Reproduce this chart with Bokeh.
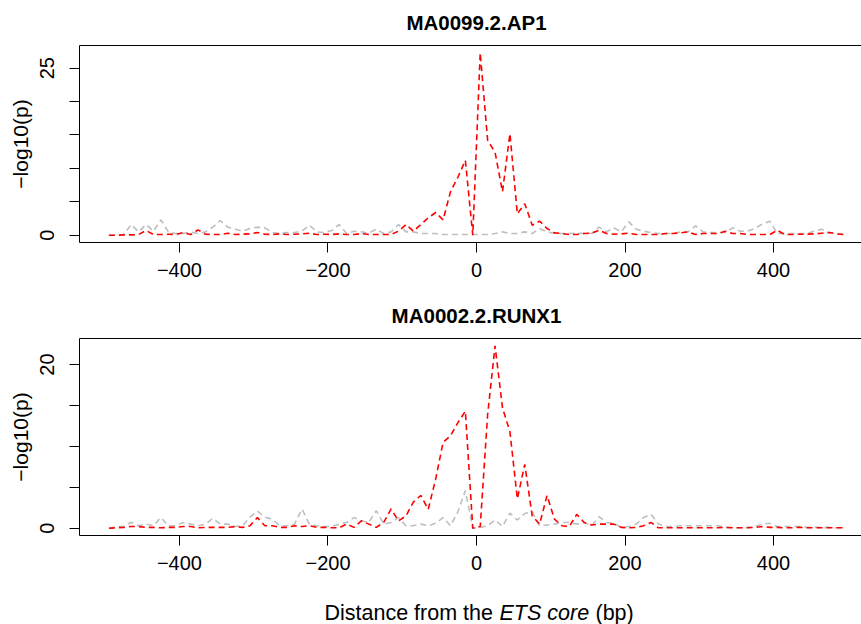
from bokeh.plotting import figure
from bokeh.models import Range1d, FixedTicker, LinearAxis
from bokeh.layouts import column
from bokeh.core.properties import value
from bokeh.embed import file_html
from bokeh.resources import INLINE

# ---------------- data ----------------
positions = list(range(-495, 500, 10))  # bin centres (bp)

ap1_red = [
    0.0, 0.0, 0.05, 0.05, 0.1, 0.7, 0.1, 0.1, 0.15, 0.1,
    0.4, 0.1, 0.8, 0.15, 0.1, 0.1, 0.3, 0.1, 0.15, 0.2,
    0.4, 0.15, 0.1, 0.2, 0.1, 0.15, 0.2, 0.3, 0.1, 0.15,
    0.1, 0.2, 0.1, 0.1, 0.25, 0.1, 0.1, 0.1, 0.1, 0.6,
    1.6, 0.6, 1.6, 2.6, 3.4, 2.3, 6.5, 8.7, 11.2, 0.0,
    27.3, 14.2, 12.4, 6.5, 15.2, 3.2, 4.7, 1.5, 2.1, 1.0,
    0.35, 0.25, 0.1, 0.1, 0.25, 0.3, 0.75, 0.25, 0.15, 0.2,
    0.3, 0.1, 0.1, 0.1, 0.1, 0.25, 0.25, 0.35, 0.5, 0.1,
    0.25, 0.25, 0.25, 0.6, 0.25, 0.25, 0.1, 0.1, 0.1, 0.1,
    0.75, 0.1, 0.1, 0.15, 0.15, 0.2, 0.3, 0.4, 0.2, 0.1,
]
ap1_grey = [
    0.0, 0.0, 0.1, 1.6, 0.5, 1.6, 0.6, 2.3, 0.5, 0.25,
    0.25, 0.5, 0.25, 0.5, 1.2, 2.2, 1.2, 0.9, 0.6, 1.0,
    1.2, 1.1, 0.4, 0.25, 0.4, 0.4, 0.6, 1.5, 0.5, 0.4,
    0.7, 1.6, 0.25, 0.6, 0.5, 0.3, 0.9, 0.25, 0.5, 1.6,
    0.5, 0.5, 0.25, 0.25, 0.25, 0.1, 0.1, 0.1, 0.1, 0.1,
    0.1, 0.1, 0.25, 0.5, 0.25, 0.25, 0.5, 0.25, 1.0, 0.5,
    0.25, 0.25, 0.25, 0.3, 0.3, 0.25, 1.2, 0.5, 1.1, 0.5,
    2.0, 0.9, 0.6, 0.4, 0.25, 0.25, 0.25, 0.5, 0.5, 1.4,
    0.5, 0.4, 0.4, 0.4, 1.1, 0.6, 0.6, 1.0, 1.7, 2.1,
    0.25, 0.25, 0.25, 0.25, 0.25, 0.6, 0.9, 0.4, 0.25, 0.1,
]
runx1_red = [
    0.0, 0.05, 0.1, 0.2, 0.2, 0.1, 0.1, 0.05, 0.1, 0.1,
    0.2, 0.2, 0.05, 0.1, 0.1, 0.1, 0.1, 0.2, 0.1, 0.3,
    1.3, 0.3, 0.3, 0.1, 0.1, 0.3, 0.2, 0.3, 0.1, 0.1,
    0.05, 0.05, 0.5, 0.1, 0.9, 0.5, 0.1, 0.7, 2.35, 0.9,
    1.5, 3.2, 4.0, 2.3, 6.0, 10.5, 11.3, 12.9, 14.3, 0.0,
    0.2, 13.9, 22.3, 14.7, 11.8, 3.6, 7.8, 1.5, 0.5, 4.0,
    1.1, 0.3, 0.2, 1.7, 0.7, 0.4, 0.5, 0.5, 0.5, 0.1,
    0.05, 0.1, 0.3, 0.7, 0.05, 0.05, 0.05, 0.05, 0.05, 0.05,
    0.05, 0.05, 0.05, 0.1, 0.05, 0.05, 0.05, 0.1, 0.2, 0.1,
    0.1, 0.05, 0.05, 0.1, 0.05, 0.05, 0.05, 0.05, 0.05, 0.05,
]
runx1_grey = [
    0.0, 0.2, 0.2, 0.73, 0.3, 0.5, 0.3, 1.3, 0.3, 0.3,
    0.7, 0.5, 0.3, 0.5, 1.2, 0.5, 0.5, 0.2, 0.3, 1.35,
    2.1, 1.35, 1.1, 0.3, 0.3, 0.5, 2.35, 0.5, 0.3, 0.2,
    0.2, 0.5, 0.7, 1.3, 0.9, 0.7, 2.15, 0.5, 0.7, 1.3,
    0.3, 0.3, 0.5, 0.3, 0.6, 1.3, 0.3, 2.0, 4.6, 0.0,
    0.1, 0.3, 1.0, 0.2, 1.85, 1.0, 1.8, 2.0, 0.3, 0.4,
    0.5, 0.7, 0.7, 0.5, 0.7, 0.3, 1.4, 0.7, 0.6, 0.1,
    0.2, 0.5, 1.3, 1.7, 0.5, 0.2, 0.2, 0.3, 0.3, 0.3,
    0.3, 0.3, 0.3, 0.1, 0.05, 0.05, 0.1, 0.2, 0.5, 0.6,
    0.2, 0.2, 0.2, 0.2, 0.1, 0.1, 0.1, 0.1, 0.05, 0.05,
]

panel_titles = ["MA0099.2.AP1", "MA0002.2.RUNX1"]
x_ticks = [-400, -200, 0, 200, 400]
x_tick_labels = ["\u2212400", "\u2212200", "0", "200", "400"]
y_ticks_top = [0, 5, 10, 15, 20, 25]
y_ticks_bottom = [0, 5, 10, 15, 20]
y_label = "\u2212log10(p)"
x_label_parts = ["Distance from the", "ETS core", "(bp)"]

# ---------------- style ----------------
FONT = "Liberation Sans"
WIDTH = 861
BORDER_LEFT = 79
FULL_FRAME_PX = 794.0      # width the full R plot region would have
RED = "#FF0000"
GREY = "#BEBEBE"
DASH = "6 4"
LW = 1.6

# shared x range (R style 4% padding, right side cut by the window)
xmin, xmax = min(positions), max(positions)
padx = 0.04 * (xmax - xmin)
x0 = xmin - padx
full = (xmax + padx) - x0
x1 = x0 + (WIDTH - BORDER_LEFT) * full / FULL_FRAME_PX
XR = Range1d(x0, x1)


def text_strip(height):
    p = figure(width=WIDTH, height=height, output_backend="svg",
               toolbar_location=None, x_range=XR, y_range=Range1d(0, height),
               min_border_left=BORDER_LEFT, min_border_right=0,
               min_border_top=0, min_border_bottom=0)
    p.axis.visible = False
    p.xgrid.visible = False
    p.ygrid.visible = False
    p.outline_line_color = None
    p.background_fill_color = "white"
    p.border_fill_color = "white"
    return p


def make_panel(red, grey, y_ticks, height, b_bottom):
    vals = red + grey
    ymin, ymax = min(vals), max(vals)
    pady = 0.04 * (ymax - ymin)

    p = figure(width=WIDTH, height=height, output_backend="svg",
               toolbar_location=None, x_range=XR,
               y_range=Range1d(ymin - pady, ymax + pady),
               min_border_left=BORDER_LEFT, min_border_right=0,
               min_border_top=0, min_border_bottom=b_bottom)
    p.outline_line_color = None
    p.background_fill_color = "white"
    p.border_fill_color = "white"
    p.xgrid.visible = False
    p.ygrid.visible = False

    for ax in (p.xaxis[0], p.yaxis[0]):
        ax.axis_line_color = "black"
        ax.axis_line_width = 1
        ax.major_tick_line_color = "black"
        ax.major_tick_out = 10
        ax.major_tick_in = 0
        ax.minor_tick_line_color = None
        ax.major_label_text_font = FONT
        ax.major_label_text_font_size = "20px"
        ax.major_label_text_color = "black"

    p.xaxis[0].ticker = FixedTicker(ticks=x_ticks)
    p.xaxis[0].major_label_overrides = dict(zip(x_ticks, x_tick_labels))
    p.xaxis[0].major_label_standoff = 10

    p.yaxis[0].ticker = FixedTicker(ticks=y_ticks)
    p.yaxis[0].major_label_overrides = {
        t: (str(t) if t in (y_ticks[0], y_ticks[-1]) else "") for t in y_ticks}
    p.yaxis[0].major_label_orientation = "vertical"
    p.yaxis[0].major_label_standoff = 15
    p.yaxis[0].axis_label = y_label
    p.yaxis[0].axis_label_text_font = FONT
    p.yaxis[0].axis_label_text_font_size = "21px"
    p.yaxis[0].axis_label_text_font_style = "normal"
    p.yaxis[0].axis_label_text_color = "black"
    p.yaxis[0].axis_label_standoff = 6

    top = LinearAxis(ticker=FixedTicker(ticks=[]), axis_line_color="black",
                     major_tick_line_color=None, minor_tick_line_color=None,
                     major_tick_out=0, major_tick_in=0, major_label_standoff=0,
                     major_label_text_font_size="0px")
    p.add_layout(top, "above")

    p.line(positions, grey, line_color=GREY, line_width=LW, line_dash=DASH)
    p.line(positions, red, line_color=RED, line_width=LW, line_dash=DASH)
    return p


def title_strip(title, height, from_bottom):
    t = text_strip(height)
    t.text(x=[0], y=[from_bottom], text=[title], text_align="center",
           text_baseline="middle", text_font=value(FONT),
           text_font_size=value("20.5px"), text_font_style="bold",
           text_color="black")
    return t


t1 = title_strip(panel_titles[0], 45, 23)
p1 = make_panel(ap1_red, ap1_grey, y_ticks_top, 245, 48)
t2 = title_strip(panel_titles[1], 48, 23)
p2 = make_panel(runx1_red, runx1_grey, y_ticks_bottom, 247, 50)

# x-axis title with italic "ETS core" (pixel offsets from the x=0 position)
t3 = text_strip(39)
fs = 21.5
offsets = [-152, 23, 119]
styles = ["normal", "italic", "normal"]
for txt, off, st in zip(x_label_parts, offsets, styles):
    t3.text(x=[0], y=[12], x_offset=off, text=[txt], text_align="left",
            text_baseline="middle", text_font=value(FONT),
            text_font_size=value(f"{fs}px"), text_font_style=st,
            text_color="black")

layout = column(t1, p1, t2, p2, t3, spacing=0)
open("out.html", "w").write(file_html(layout, INLINE))
